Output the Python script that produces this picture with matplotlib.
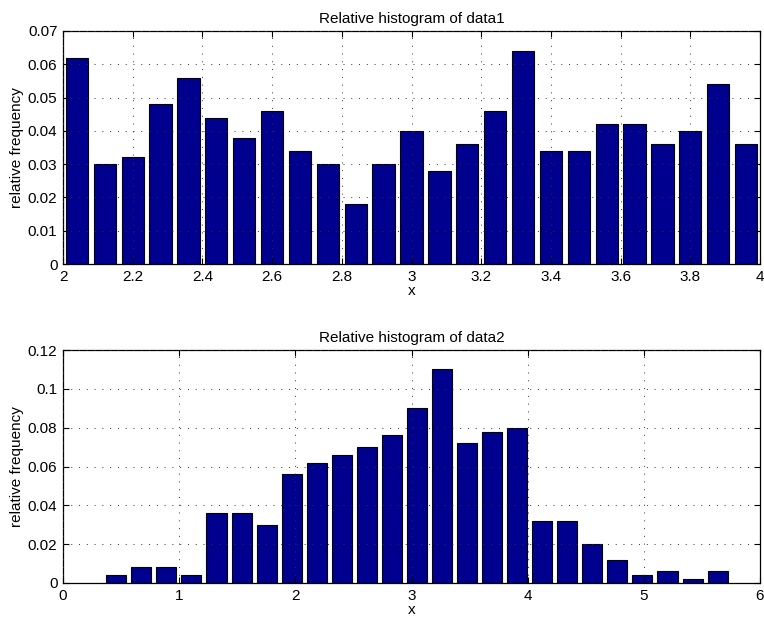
"""Relative histograms of data1 and data2 (MATLAB-style bar look)."""

import matplotlib
matplotlib.use("Agg")
import matplotlib.pyplot as plt
import numpy as np

# ---------------------------------------------------------------------------
# Data
# ---------------------------------------------------------------------------
data1_range = (2.0, 4.0)          # bin range of data1 (25 bins)
data1_freq = [0.062, 0.030, 0.032, 0.048, 0.056, 0.044, 0.038, 0.046, 0.034,
              0.030, 0.018, 0.030, 0.040, 0.028, 0.036, 0.046, 0.064, 0.034,
              0.034, 0.042, 0.042, 0.036, 0.040, 0.054, 0.036]

data2_range = (0.351, 5.743)      # bin range of data2 (25 bins)
data2_freq = [0.004, 0.008, 0.008, 0.004, 0.036, 0.036, 0.030, 0.056, 0.062,
              0.066, 0.070, 0.076, 0.090, 0.110, 0.072, 0.078, 0.080, 0.032,
              0.032, 0.020, 0.012, 0.004, 0.006, 0.002, 0.006]

x1_ticks = [2, 2.2, 2.4, 2.6, 2.8, 3, 3.2, 3.4, 3.6, 3.8, 4]
y1_ticks = [0, 0.01, 0.02, 0.03, 0.04, 0.05, 0.06, 0.07]
x2_ticks = [0, 1, 2, 3, 4, 5, 6]
y2_ticks = [0, 0.02, 0.04, 0.06, 0.08, 0.1, 0.12]

BAR_COLOUR = "#00008F"

plt.rcParams["font.family"] = ["Liberation Sans", "DejaVu Sans"]


def bin_centres(rng, n):
    edges = np.linspace(rng[0], rng[1], n + 1)
    return (edges[:-1] + edges[1:]) / 2, edges[1] - edges[0]


def draw_hist(ax, rng, freq, xticks, yticks, title):
    centres, step = bin_centres(rng, len(freq))
    ax.bar(centres, freq, width=0.8 * step, color=BAR_COLOUR,
           edgecolor="black", linewidth=0.8, zorder=2)
    ax.set_xlim(xticks[0], xticks[-1])
    ax.set_ylim(yticks[0], yticks[-1])
    ax.set_xticks(xticks)
    ax.set_yticks(yticks)
    ax.set_xticklabels([f"{t:g}" for t in xticks])
    ax.set_yticklabels([f"{t:g}" for t in yticks])
    ax.grid(True, linestyle=(0, (1, 7)), color="#333333", linewidth=0.7, zorder=1)
    ax.tick_params(direction="in", top=True, right=True, length=4,
                   labelsize=11, pad=4)
    for s in ax.spines.values():
        s.set_linewidth(0.9)
    ax.set_title(title, fontsize=11, pad=6)
    ax.set_xlabel("x", fontsize=11, labelpad=0)
    ax.set_ylabel("relative frequency", fontsize=11, labelpad=3)
    ax.set_axisbelow(False)


fig = plt.figure(figsize=(7.64, 6.24), dpi=100)
ax1 = fig.add_axes([63 / 764, 1 - 264 / 624, 697 / 764, 233 / 624])
ax2 = fig.add_axes([63 / 764, 1 - 583 / 624, 697 / 764, 233 / 624])

draw_hist(ax1, data1_range, data1_freq, x1_ticks, y1_ticks,
          "Relative histogram of data1")
draw_hist(ax2, data2_range, data2_freq, x2_ticks, y2_ticks,
          "Relative histogram of data2")

fig.savefig("out.png", dpi=100)
plt.close(fig)
